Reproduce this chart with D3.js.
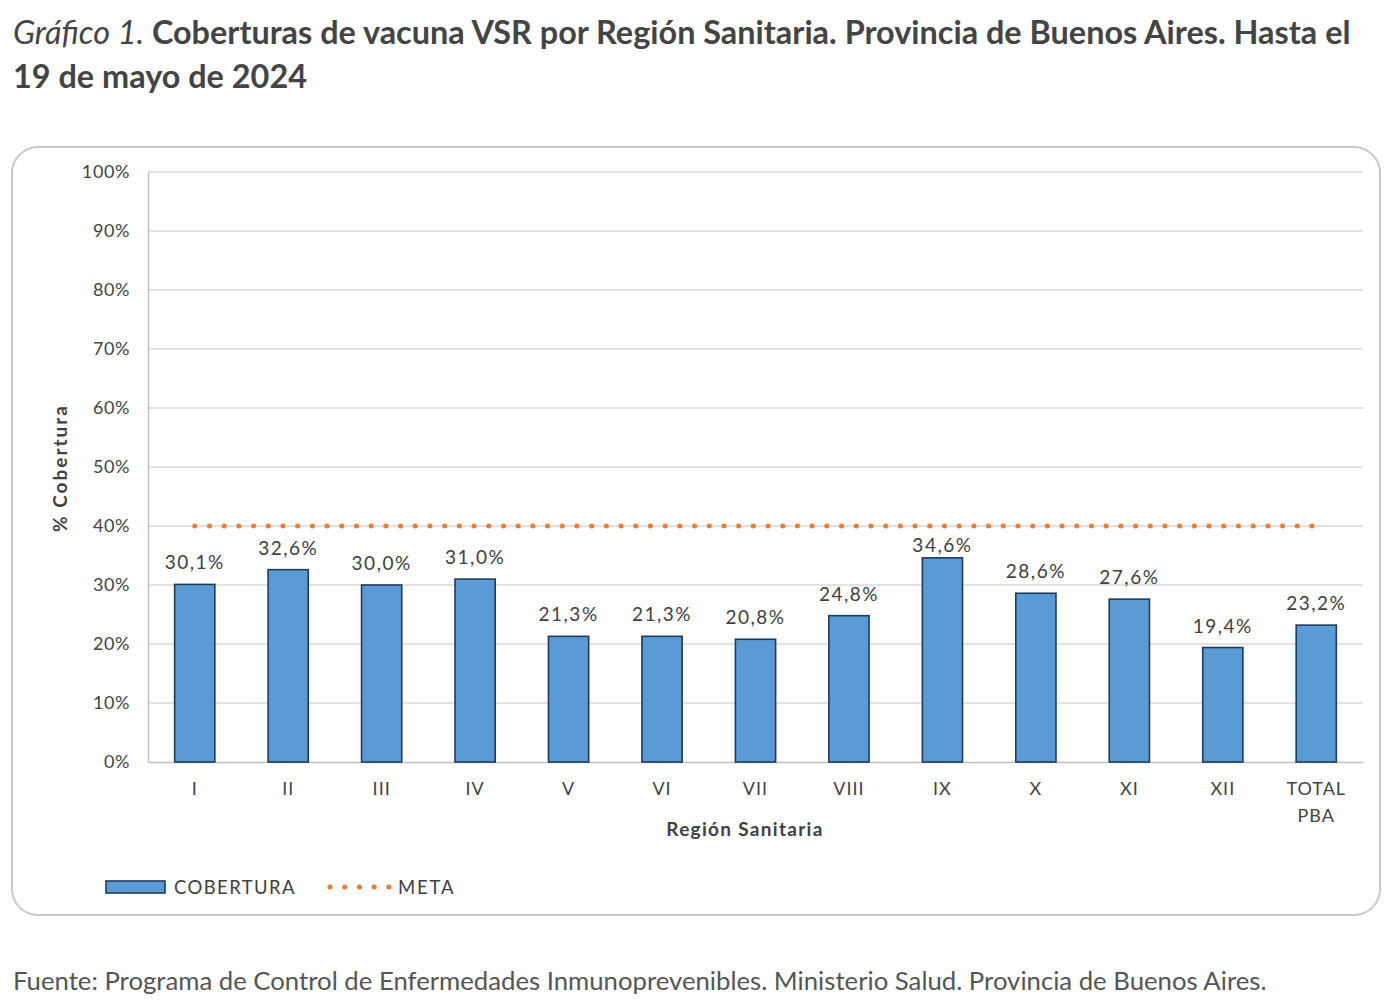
<!DOCTYPE html>
<html><head><meta charset="utf-8">
<script src="https://cdn.jsdelivr.net/npm/d3@7"></script>
<style>
body{margin:0;background:#fff;}
svg{display:block;}
</style></head>
<body>
<svg id="chart" width="1400" height="1008"></svg>
<script>
const categories = ["I","II","III","IV","V","VI","VII","VIII","IX","X","XI","XII","TOTAL PBA"];
const cobertura = [30.1,32.6,30.0,31.0,21.3,21.3,20.8,24.8,34.6,28.6,27.6,19.4,23.2];
const meta = [40,40,40,40,40,40,40,40,40,40,40,40,40];
const yTicks = [0,10,20,30,40,50,60,70,80,90,100];

const svg = d3.select("#chart");
const FONT = "Lato, 'Open Sans', sans-serif";

function fitText(sel, w){
  const node = sel.node();
  const cur = node.getComputedTextLength();
  const fs = parseFloat(sel.attr("font-size"));
  sel.attr("font-size", fs * w / cur);
}

// Title
const t1 = svg.append("text").attr("x",13).attr("y",44).attr("font-family",FONT)
  .attr("font-size",28).attr("font-weight","bold").attr("fill","#444");
t1.append("tspan").attr("font-style","italic").attr("font-weight","normal").text("Gráfico 1.");
t1.append("tspan").text(" Coberturas de vacuna VSR por Región Sanitaria. Provincia de Buenos Aires. Hasta el");
fitText(t1, 1338);
svg.append("text").attr("x",13).attr("y",88).attr("font-family",FONT)
  .attr("font-size",t1.attr("font-size")).attr("font-weight","bold").attr("fill","#444")
  .text("19 de mayo de 2024");

// Frame
svg.append("rect").attr("x",12).attr("y",147).attr("width",1368).attr("height",768)
  .attr("rx",26).attr("ry",26).attr("fill","#fff").attr("stroke","#c8c8c8").attr("stroke-width",2);

// Scales
const x = d3.scaleBand().domain(categories).range([148,1363]).paddingInner(0.57).paddingOuter(0.285);
const y = d3.scaleLinear().domain([0,100]).range([762,172]);

// Grid
svg.append("g").selectAll("line").data(yTicks.filter(d=>d>0)).join("line")
  .attr("x1",148).attr("x2",1363).attr("y1",d=>y(d)).attr("y2",d=>y(d))
  .attr("stroke","#d9d9d9").attr("stroke-width",1.5);

// Y axis
const yAxis = svg.append("g").attr("transform","translate(148,0)")
  .call(d3.axisLeft(y).tickValues(yTicks).tickSize(0).tickPadding(18).tickFormat(d=>d+"%"));
yAxis.select(".domain").attr("stroke","#bfbfbf").attr("stroke-width",1.5);
yAxis.selectAll("text").attr("font-family",FONT).attr("font-size",18).attr("fill","#444")
  .attr("letter-spacing",0.6);

// X axis
const xAxis = svg.append("g").attr("transform","translate(0,762)")
  .call(d3.axisBottom(x).tickSize(0).tickPadding(20));
xAxis.select(".domain").attr("stroke","#bfbfbf").attr("stroke-width",1.5);
xAxis.selectAll("text").attr("font-family",FONT).attr("font-size",18).attr("fill","#444")
  .attr("letter-spacing",1)
  .each(function(d){
    const parts = d.split(" ");
    if(parts.length>1){
      const el = d3.select(this); el.text(null);
      parts.forEach((p,i)=>el.append("tspan").attr("x",0).attr("dy",i===0?"0.71em":"1.5em").text(p));
    }
  });

// Bars
svg.append("g").selectAll("rect").data(cobertura).join("rect")
  .attr("x",(d,i)=>x(categories[i])).attr("width",x.bandwidth())
  .attr("y",d=>y(d)).attr("height",d=>y(0)-y(d))
  .attr("fill","#5b9bd5").attr("stroke","#1f3b5c").attr("stroke-width",1.6);

// Data labels (shifted closer to the bar when it would collide with the META line)
const metaY = y(meta[0]);
svg.append("g").selectAll("text").data(cobertura).join("text")
  .attr("x",(d,i)=>x(categories[i])+x.bandwidth()/2)
  .attr("y",d=>{ let yy = y(d)-15; if (yy-14 < metaY+5) yy = y(d)-6; return yy; })
  .attr("text-anchor","middle").attr("font-family",FONT).attr("font-size",19).attr("fill","#404040")
  .attr("letter-spacing",1.5)
  .text(d=>d.toFixed(1).replace(".",",")+"%");

// Meta dotted line
const line = d3.line().x((d,i)=>x(categories[i])+x.bandwidth()/2).y(d=>y(d));
svg.append("path").datum(meta).attr("d",line).attr("fill","none")
  .attr("stroke","#ed7d31").attr("stroke-width",5).attr("stroke-linecap","round")
  .attr("stroke-dasharray","0.1 14.6");

// Axis titles
svg.append("text").attr("transform","translate(67,468) rotate(-90)").attr("text-anchor","middle")
  .attr("font-family",FONT).attr("font-size",19).attr("font-weight","bold").attr("fill","#404040")
  .attr("letter-spacing",2).text("% Cobertura");
svg.append("text").attr("x",745).attr("y",836).attr("text-anchor","middle")
  .attr("font-family",FONT).attr("font-size",19).attr("font-weight","bold").attr("fill","#404040")
  .attr("letter-spacing",1.3).text("Región Sanitaria");

// Legend
svg.append("rect").attr("x",106).attr("y",881).attr("width",59).attr("height",12)
  .attr("fill","#5b9bd5").attr("stroke","#1f3b5c").attr("stroke-width",1.6);
svg.append("text").attr("x",174).attr("y",894).attr("font-family",FONT).attr("font-size",18.5)
  .attr("fill","#404040").attr("letter-spacing",1.4).text("COBERTURA");
svg.append("line").attr("x1",330).attr("x2",389).attr("y1",887).attr("y2",887)
  .attr("stroke","#ed7d31").attr("stroke-width",5).attr("stroke-linecap","round")
  .attr("stroke-dasharray","0.1 14.6");
svg.append("text").attr("x",398).attr("y",894).attr("font-family",FONT).attr("font-size",18.5)
  .attr("fill","#404040").attr("letter-spacing",1.8).text("META");

// Footer
const f = svg.append("text").attr("x",13).attr("y",990).attr("font-family",FONT).attr("font-size",22)
  .attr("fill","#555").text("Fuente: Programa de Control de Enfermedades Inmunoprevenibles. Ministerio Salud. Provincia de Buenos Aires.");
fitText(f, 1254);
</script>
</body></html>
